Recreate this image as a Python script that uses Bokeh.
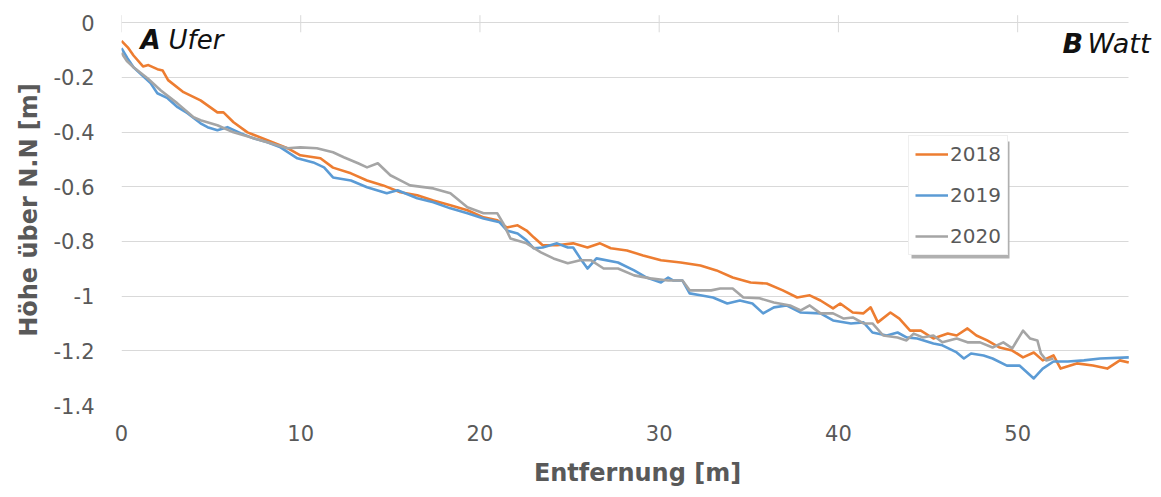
from bokeh.plotting import figure
from bokeh.models import (Range1d, FixedTicker, CustomJSTickFormatter,
                          Legend, LegendItem, Label, BoxAnnotation)
from bokeh.embed import file_html
from bokeh.resources import INLINE

# ---------------- data ----------------
x_2018 = [0, 0.35, 0.67, 1.2, 1.5, 2.0, 2.3, 2.6, 3.46, 4.41, 5.35, 5.69, 6.25, 7.03, 8.14,
          9.26, 9.98, 11.1, 11.8, 12.8, 13.7, 14.6, 15.56, 16.5, 17.4, 18.35, 19.3, 20.2, 20.97, 21.5,
          22.1, 22.6, 23.0, 23.5, 24.3, 25.2, 26.0, 26.7, 27.3, 28.2, 29.1, 30.1, 31.2, 32.3, 33.2,
          34.1, 35.1, 36.0, 36.9, 37.7, 38.4, 39.0, 39.7, 40.1, 40.8, 41.4, 41.8, 42.2, 42.9, 43.4,
          44.0, 44.6, 45.3, 46.1, 46.6, 47.2, 47.7, 48.3, 49.0, 49.7, 50.3, 50.9, 51.4, 52.0, 52.4,
          53.3, 54.2, 55.0, 55.7, 56.2]
y_2018 = [-0.067, -0.09, -0.12, -0.16, -0.155, -0.17, -0.175, -0.21, -0.254, -0.284, -0.328, -0.328, -0.364, -0.401, -0.430,
          -0.459, -0.485, -0.496, -0.530, -0.551, -0.577, -0.595, -0.620, -0.631, -0.650, -0.668, -0.686, -0.712, -0.723, -0.749,
          -0.741, -0.760, -0.785, -0.814, -0.814, -0.807, -0.822, -0.807, -0.825, -0.833, -0.851, -0.869, -0.877, -0.888, -0.906,
          -0.932, -0.950, -0.954, -0.979, -1.005, -0.997, -1.016, -1.045, -1.027, -1.060, -1.063, -1.041, -1.096, -1.060, -1.082,
          -1.126, -1.126, -1.155, -1.137, -1.144, -1.118, -1.144, -1.162, -1.188, -1.199, -1.224, -1.206, -1.235, -1.217, -1.265,
          -1.246, -1.254, -1.265, -1.235, -1.243]

x_2019 = [0, 0.33, 0.67, 1.62, 2.0, 2.57, 3.13, 3.68, 4.41, 4.8, 5.35, 5.91, 6.64, 7.36, 8.14,
          8.87, 9.81, 10.7, 11.3, 11.8, 12.8, 13.7, 14.8, 15.4, 16.5, 17.4, 18.35, 19.3, 20.2, 21.1,
          21.5, 22.1, 22.6, 23.0, 23.5, 24.3, 24.9, 25.2, 25.6, 26.0, 26.5, 27.7, 28.6, 29.3, 30.1,
          30.5, 30.8, 31.3, 31.7, 32.3, 33.0, 33.8, 34.5, 35.2, 35.8, 36.4, 37.1, 37.9, 39.0, 39.7,
          40.7, 41.4, 41.9, 42.7, 43.3, 43.8, 44.4, 45.3, 45.8, 46.6, 47.0, 47.4, 48.1, 48.6, 49.4,
          50.1, 50.9, 51.4, 52.0, 52.8, 53.7, 54.6, 56.2]
y_2019 = [-0.093, -0.13, -0.163, -0.221, -0.258, -0.276, -0.309, -0.331, -0.368, -0.382, -0.393, -0.382, -0.404, -0.423, -0.437,
          -0.456, -0.496, -0.511, -0.529, -0.566, -0.577, -0.602, -0.624, -0.613, -0.642, -0.657, -0.679, -0.697, -0.716, -0.730,
          -0.760, -0.771, -0.796, -0.825, -0.822, -0.807, -0.822, -0.822, -0.862, -0.899, -0.862, -0.877, -0.906, -0.932, -0.950,
          -0.932, -0.943, -0.943, -0.990, -0.997, -1.005, -1.027, -1.016, -1.027, -1.063, -1.041, -1.034, -1.060, -1.063, -1.089,
          -1.100, -1.096, -1.133, -1.144, -1.133, -1.151, -1.155, -1.173, -1.180, -1.206, -1.228, -1.210, -1.217, -1.228, -1.254,
          -1.254, -1.301, -1.265, -1.239, -1.239, -1.235, -1.228, -1.224]

x_2020 = [0, 0.3, 0.67, 1.45, 2.18, 3.12, 4.02, 4.41, 5.35, 6.25, 7.2, 8.14, 9.26, 9.98, 10.9,
          11.8, 12.4, 13.2, 13.7, 14.3, 15.0, 15.56, 16.1, 17.4, 18.35, 19.3, 20.2, 20.97, 21.3, 21.7,
          22.6, 23.4, 24.1, 24.9, 25.6, 26.2, 26.9, 27.7, 28.6, 29.5, 30.5, 31.3, 31.7, 32.3, 32.9,
          33.4, 34.1, 34.7, 35.6, 36.4, 37.3, 37.9, 38.4, 39.0, 39.7, 40.3, 40.8, 41.4, 41.9, 42.5,
          43.3, 43.8, 44.2, 44.7, 45.3, 45.8, 46.6, 47.2, 47.9, 48.6, 49.2, 49.7, 50.3, 50.7, 51.1,
          51.3, 51.6, 52.0]
y_2020 = [-0.11, -0.14, -0.163, -0.203, -0.247, -0.295, -0.346, -0.357, -0.375, -0.401, -0.419, -0.437, -0.459, -0.456, -0.459,
          -0.474, -0.492, -0.514, -0.529, -0.514, -0.558, -0.577, -0.595, -0.606, -0.624, -0.675, -0.697, -0.697, -0.734, -0.789,
          -0.807, -0.840, -0.862, -0.880, -0.869, -0.869, -0.899, -0.899, -0.924, -0.935, -0.943, -0.943, -0.979, -0.979, -0.979,
          -0.972, -0.972, -1.005, -1.008, -1.023, -1.034, -1.052, -1.034, -1.063, -1.063, -1.082, -1.078, -1.100, -1.100, -1.144,
          -1.151, -1.162, -1.137, -1.151, -1.144, -1.169, -1.155, -1.169, -1.169, -1.188, -1.169, -1.191, -1.126, -1.155, -1.162,
          -1.210, -1.235, -1.228]

series_names = ["2018", "2019", "2020"]
series_colors = ["#ED7D31", "#5B9BD5", "#A5A5A5"]
x_ticks = [0, 10, 20, 30, 40, 50]
y_ticks = [0, -0.2, -0.4, -0.6, -0.8, -1.0, -1.2, -1.4]
x_title = "Entfernung [m]"
y_title = "Höhe über N.N [m]"

# ---------------- layout / style constants ----------------
FONT = "DejaVu Sans"
GREY_TXT = "#595959"
GRID = "#d9d9d9"
X_AXIS_END = 56.2          # end of the horizontal axis (grid lines stop here)
X_VIEW_END = 57.58         # visible range (room for the "B Watt" note)
Y_VIEW_TOP = 0.03          # small room above 0 for the axis tick marks
TICK_UP, TICK_DOWN = 0.0275, -0.035

p = figure(width=1153, height=489, output_backend="svg", toolbar_location=None,
           x_range=Range1d(0, X_VIEW_END), y_range=Range1d(-1.4, Y_VIEW_TOP),
           min_border_left=121, min_border_right=0, min_border_top=14, min_border_bottom=84)
p.outline_line_color = None
p.background_fill_color = "white"
p.border_fill_color = "white"

# grid
p.xgrid.grid_line_color = None
p.ygrid.ticker = FixedTicker(ticks=y_ticks)
p.ygrid.grid_line_color = GRID
p.ygrid.grid_line_width = 1
g = p.ygrid[0]
if "cross_bounds" in g.properties():
    g.cross_bounds = (0, X_AXIS_END)

# tick marks of the horizontal axis (which lies at y = 0)
n = len(x_ticks)
p.segment(x0=x_ticks, y0=[TICK_UP] * n, x1=x_ticks, y1=[TICK_DOWN] * n,
          line_color=GRID, line_width=1)

# lines
renderers = []
for xs, ys, c in zip([x_2018, x_2019, x_2020], [y_2018, y_2019, y_2020], series_colors):
    r = p.line(xs, ys, line_color=c, line_width=2.6, line_join="round")
    renderers.append(r)

# x axis (labels at bottom, no line)
xa = p.xaxis[0]
xa.ticker = FixedTicker(ticks=x_ticks)
xa.axis_line_color = None
xa.major_tick_line_color = None
xa.minor_tick_line_color = None
xa.major_tick_out = 0
xa.major_tick_in = 0
xa.major_label_standoff = 19
xa.major_label_text_font = FONT
xa.major_label_text_font_size = "21px"
xa.major_label_text_color = GREY_TXT
xa.axis_label = x_title
xa.axis_label_text_font = FONT
xa.axis_label_text_font_style = "bold"
xa.axis_label_text_font_size = "24px"
xa.axis_label_text_color = GREY_TXT
xa.axis_label_standoff = 15

# y axis
ya = p.yaxis[0]
ya.ticker = FixedTicker(ticks=y_ticks)
ya.formatter = CustomJSTickFormatter(code="return Number(tick.toFixed(1)).toString();")
ya.axis_line_color = None
ya.major_tick_line_color = None
ya.minor_tick_line_color = None
ya.major_tick_out = 0
ya.major_tick_in = 0
ya.major_label_standoff = 27
ya.major_label_text_font = FONT
ya.major_label_text_font_size = "21px"
ya.major_label_text_color = GREY_TXT
ya.axis_label = y_title
ya.axis_label_text_font = FONT
ya.axis_label_text_font_style = "bold"
ya.axis_label_text_font_size = "24px"
ya.axis_label_text_color = GREY_TXT
ya.axis_label_standoff = 8

# annotations A Ufer / B Watt
ANN_Y_A, ANN_Y_B = -0.062, -0.076
for x, y, t, style, fs in [(1.06, ANN_Y_A, "A", "bold italic", "26px"),
                           (2.62, ANN_Y_A, "Ufer", "italic", "26px"),
                           (52.5, ANN_Y_B, "B", "bold italic", "27px"),
                           (53.9, ANN_Y_B, "Watt", "italic", "27px")]:
    p.add_layout(Label(x=x, y=y, text=t, text_font=FONT, text_font_style=style,
                       text_font_size=fs, text_color="#111111",
                       text_baseline="middle", text_align="left"))

# legend shadow
p.add_layout(BoxAnnotation(left=790, right=888, bottom=147, top=264,
                           left_units="screen", right_units="screen",
                           bottom_units="screen", top_units="screen",
                           fill_color="#b0b0b0", fill_alpha=1.0, line_color=None))

legend = Legend(items=[LegendItem(label=nm, renderers=[r]) for nm, r in zip(series_names, renderers)],
                location=(787, 150), orientation="vertical",
                label_text_font=FONT, label_text_font_size="20px", label_text_color=GREY_TXT,
                glyph_width=33, glyph_height=20, label_height=20, label_standoff=2,
                spacing=17, padding=6, margin=0,
                border_line_color="#e0e0e0", background_fill_color="white", background_fill_alpha=1.0)
p.add_layout(legend)

open("out.html", "w").write(file_html(p, INLINE))
